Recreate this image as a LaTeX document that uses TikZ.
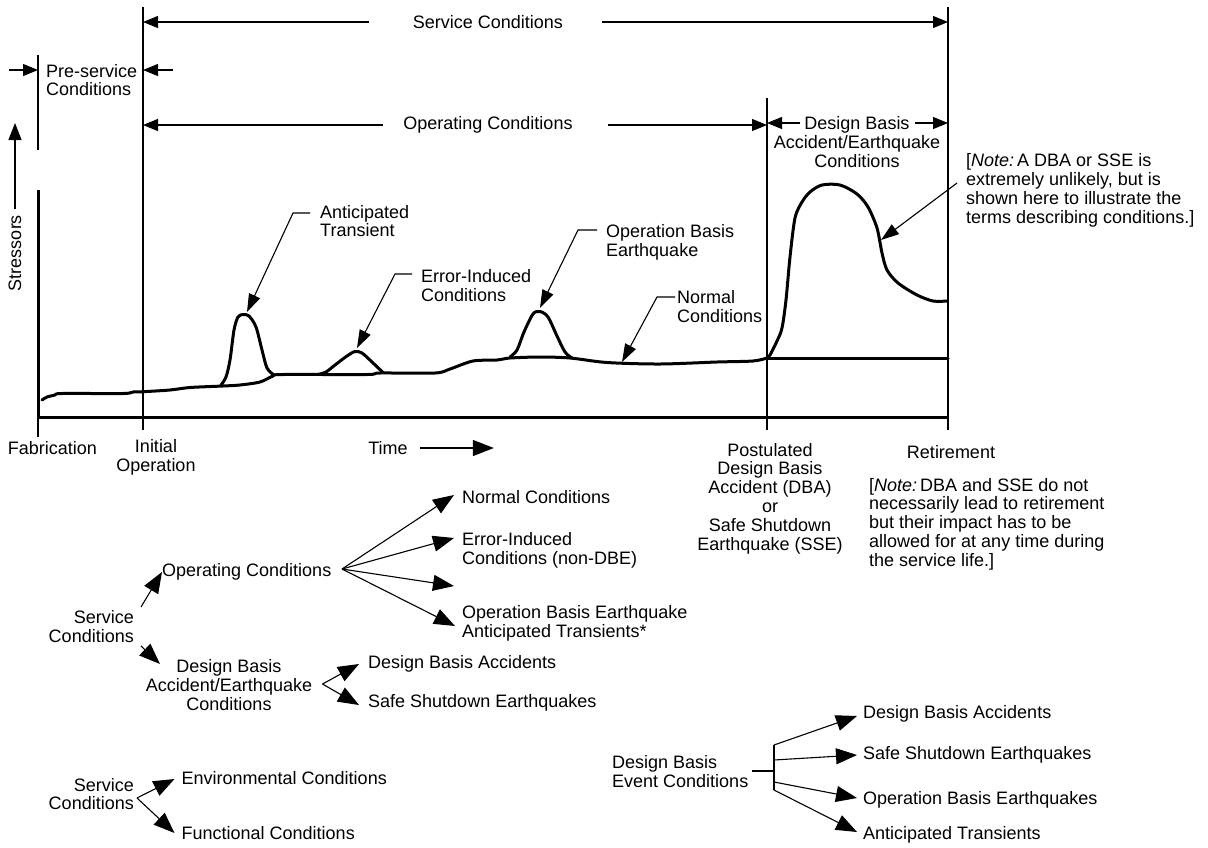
\documentclass[tikz,border=0pt]{standalone}
\usepackage{fontspec}
\setmainfont{Liberation Sans}
\usetikzlibrary{arrows.meta}
\begin{document}
\begin{tikzpicture}[x=1pt,y=-1pt,
  every node/.style={inner sep=0pt, font=\fontsize{18}{18.8}\selectfont},
  hair/.style={line width=1.1pt},
  axisline/.style={line width=3pt},
  crv/.style={line width=3pt, line join=round, line cap=round},
  dim/.style={hair, -{Triangle[length=15pt,width=12pt]}},
  lead/.style={hair, -{Triangle[length=18pt,width=12pt]}},
  tree/.style={hair, -{Triangle[length=21pt,width=16pt]}}]
\useasboundingbox (0,0) rectangle (1208,847);

% ---------- vertical reference lines ----------
\coordinate (ioT) at (143,7);   \coordinate (ioB) at (143,430);
\coordinate (rtT) at (948,7);   \coordinate (rtB) at (948,430);
\coordinate (dbT) at (767,98);  \coordinate (dbB) at (767,430);
\coordinate (psT) at (38,55);   \coordinate (psB) at (38,150);
\coordinate (ax0) at (38,417);  \coordinate (axY) at (38,190);
\coordinate (axX) at (948,417); \coordinate (fabB) at (38,437);
\draw[hair] (ioT) -- (ioB);
\draw[hair] (rtT) -- (rtB);
\draw[hair] (dbT) -- (dbB);
\draw[hair] (psT) -- (psB);
\draw[hair] (ax0) -- (fabB);
\draw[axisline] (axY) -- (ax0);
\draw[axisline] (ax0) -- (axX);

% ---------- top dimension labels ----------
\node (svc) at (488,22) {Service Conditions};
\draw[dim] ([xshift=-44]svc.west) -- (svc.west -| ioT);
\draw[dim] ([xshift=39]svc.east) -- (svc.east -| rtT);

\node[anchor=west, align=left] (pre) at (46,80) {Pre-service\\Conditions};
\coordinate (preL) at (9,70);
\coordinate (preR) at (173,70);
\draw[dim] (preL) -- (preL -| psT);
\draw[dim] (preR) -- (preR -| ioT);

\node (opc) at (488,125) {Operating Conditions};
\draw[dim] ([xshift=-20]opc.west) -- (opc.west -| ioT);
\draw[dim] ([xshift=35]opc.east) -- (opc.east -| dbT);

\node[align=center] (dba) at (857,142) {Design Basis\\Accident/Earthquake\\Conditions};
\coordinate (dbaL) at (800,123);
\coordinate (dbaR) at (915,123);
\draw[dim] (dbaL) -- (dbaL -| dbT);
\draw[dim] (dbaR) -- (dbaR -| rtT);

% ---------- Stressors axis label ----------
\node[rotate=90] (str) at (15,253) {Stressors};
\coordinate (strTip) at (15,123);
\draw[hair, -{Triangle[length=17pt,width=13pt]}] ([yshift=6]str.east) -- (strTip);

% ---------- curves ----------
\draw[crv] plot[smooth, tension=0.5] coordinates {(42,400) (47,397) (55,395) (62,393.5) (123,393.5) (133,392) (143,391.7) (170,390) (190,387.5) (223,386) (240,385) (260,382) (273,376) (283,374.5) (367,374.5) (380,373) (435,373) (450,369) (473,361) (497,360) (510,358) (540,357) (570,358) (607,362.5) (660,364) (717,362) (753,361) (767,358)};
\draw[crv] (767,358) -- (948,358);
\draw[crv] plot[smooth, tension=0.5] coordinates {(767,358) (770,355) (777,341) (782,328) (786,300) (790,257) (795,218) (802,202) (810,192) (822,185) (840,185) (857,194) (868,207) (877,228) (882,253) (887,270) (898,283) (917,295) (933,301) (947,301)};
\draw[crv] plot[smooth, tension=0.5] coordinates {(221,385) (226,377) (230,360) (234,330) (238,317) (243,314.5) (249,316) (256,327) (262,350) (267,368) (274,375)};
\draw[crv] plot[smooth, tension=0.5] coordinates {(318,374.5) (326,372) (335,365) (347,356) (355,351.5) (362,353) (372,362) (383,372.5)};
\draw[crv] plot[smooth, tension=0.5] coordinates {(510,357) (517,350) (524,332) (533,314) (540,311.5) (548,317) (557,336) (565,352) (572,358)};

% ---------- curve annotations ----------
\node[anchor=west, align=left] (at) at (320,221) {Anticipated\\Transient};
\draw[lead] ([xshift=-10]at.west |- 0,213) -- (293,213) -- (247,312);
\node[anchor=west, align=left] (ei) at (421,285.5) {Error-Induced\\Conditions};
\draw[lead] ([xshift=-9]ei.west |- 0,274) -- (395,274) -- (357,348);
\node[anchor=west, align=left] (obe) at (606,242) {Operation Basis\\Earthquake};
\draw[lead] ([xshift=-9]obe.west |- 0,230) -- (578,230) -- (540,308);
\node[anchor=west, align=left] (nc) at (677,306.5) {Normal\\Conditions};
\draw[lead] ([xshift=-2]nc.west |- 0,297) -- (657,297) -- (622,362);
\node[anchor=west, align=left] (note1) at (966,190.5) {[\textit{Note:}\,A DBA or SSE is\\extremely unlikely, but is\\shown here to illustrate the\\terms describing conditions.]};
\draw[lead] ([xshift=-9]note1.west |- 0,183) -- (881,240);

% ---------- bottom axis labels ----------
\node (fab) at (52.5,448) {Fabrication};
\node[align=center] (io) at (156,457.5) {Initial\\Operation};
\node (time) at (388,448) {Time};
\draw[tree] ([xshift=12]time.east) -- ++(74,0);
\node[align=center] (post) at (770,498.5) {Postulated\\Design Basis\\Accident (DBA)\\or\\Safe Shutdown\\Earthquake (SSE)};
\node (ret) at (951,452) {Retirement};
\node[anchor=west, align=left] (note2) at (869,524) {[\textit{Note:}\,DBA and SSE do not\\necessarily lead to retirement\\but their impact has to be\\allowed for at any time during\\the service life.]};

% ---------- tree 1: service conditions ----------
\node[anchor=east, align=right] (sc1) at (134,626.5) {Service\\Conditions};
\node[anchor=west] (oc) at (162,572) {Operating Conditions};
\node[align=center] (dbac) at (229,685) {Design Basis\\Accident/Earthquake\\Conditions};
\coordinate (sc1a) at (141,607);
\coordinate (sc1b) at (141,646);
\coordinate (dbacTip) at (160,664);
\draw[tree] (sc1a) -- (oc.west);
\draw[tree] (sc1b) -- (dbacTip);

\coordinate (ocf) at (342,569);
\node[anchor=west] (t1n) at (462,497) {Normal Conditions};
\node[anchor=west, align=left] (t1e) at (462,550.5) {Error-Induced\\Conditions (non-DBE)};
\node[anchor=west, align=left] (t1o) at (462,623.5) {Operation Basis Earthquake\\Anticipated Transients*};
\coordinate (tipN) at (454,495);
\coordinate (tipE) at (454,538);
\coordinate (tipB) at (454,586);
\coordinate (tipO) at (455,626);
\draw[tree] (ocf) -- (tipN);
\draw[tree] (ocf) -- (tipE);
\draw[tree] (ocf) -- (tipB);
\draw[tree] (ocf) -- (tipO);

\coordinate (dbf) at (322.5,684);
\node[anchor=west] (dbacc) at (368,664) {Design Basis Accidents};
\node[anchor=west] (ssesd) at (368,703) {Safe Shutdown Earthquakes};
\draw[tree] (dbf) -- ([xshift=-9]dbacc.west);
\draw[tree] (dbf) -- ([xshift=-9,yshift=-2]ssesd.west);

% ---------- tree 3 ----------
\node[anchor=east, align=right] (sc2) at (134,794) {Service\\Conditions};
\node[anchor=west] (env) at (181.5,778) {Environmental Conditions};
\node[anchor=west] (fun) at (181.5,833) {Functional Conditions};
\coordinate (sc2f) at (137,798);
\draw[tree] (sc2f) -- ([xshift=-7,yshift=-1]env.west);
\draw[tree] (sc2f) -- ([xshift=-7]fun.west);

% ---------- tree 4 ----------
\node[anchor=west, align=left] (dbe) at (612,771.5) {Design Basis\\Event Conditions};
\coordinate (barT) at (774,745);
\coordinate (barB) at (774,790);
\coordinate (barM) at (774,771);
\draw[hair] (752,771) -- (barM);
\draw[hair] (barT) -- (barB);
\node[anchor=west] (b1) at (863,714) {Design Basis Accidents};
\node[anchor=west] (b2) at (863,755) {Safe Shutdown Earthquakes};
\node[anchor=west] (b3) at (863,800) {Operation Basis Earthquakes};
\node[anchor=west] (b4) at (863,835) {Anticipated Transients};
\draw[tree] (barT) -- (857,716);
\draw[tree] (774,760) -- (857,755);
\draw[tree] (774,782) -- (857,798);
\draw[tree] (barB) -- (857,832);
\end{tikzpicture}
\end{document}
